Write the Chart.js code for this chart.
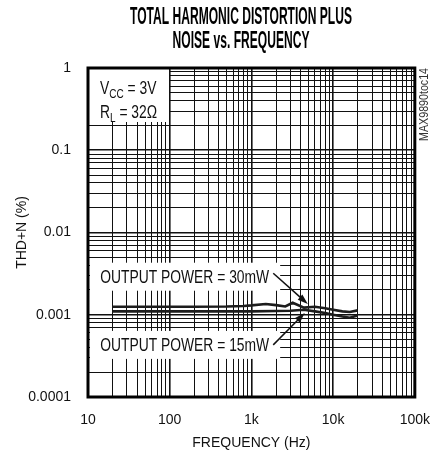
<!DOCTYPE html>
<html>
<head>
<meta charset="utf-8">
<script src="https://cdn.jsdelivr.net/npm/chart.js@4/dist/chart.umd.min.js"></script>
<style>
  html, body { margin: 0; padding: 0; background: #fff; }
  canvas { display: block; }
</style>
</head>
<body>
<canvas id="thdChart" width="445" height="460"></canvas>
<script>
const FONT = "'Liberation Sans', Arial, sans-serif";
const NARROW = 0.77; // horizontal squeeze for the narrow face used on the sheet

// data (Hz, %)
const freq30 = [20, 50, 100, 200, 500, 800, 1000, 1500, 2000, 2600, 3200, 4400, 6000, 8000, 10000, 13000, 16000, 20000];
const thd30 = [0.00125, 0.00125, 0.00125, 0.00125, 0.00126, 0.00128, 0.0013, 0.00135, 0.00131, 0.00126, 0.0014, 0.00122, 0.00125, 0.0012, 0.00115, 0.0011, 0.00108, 0.00113];
const freq15 = [20, 50, 100, 200, 500, 1000, 2000, 3000, 4400, 6000, 8000, 10000, 13000, 16000, 20000];
const thd15 = [0.0011, 0.0011, 0.0011, 0.0011, 0.0011, 0.0011, 0.00111, 0.00112, 0.00115, 0.0011, 0.00105, 0.001, 0.00095, 0.00092, 0.00098];

const xDecades = [10, 100, 1000, 10000, 100000];
const xTickLabels = ["10", "100", "1k", "10k", "100k"];
const yDecades = [0.0001, 0.001, 0.01, 0.1, 1];
const yTickLabels = ["0.0001", "0.001", "0.01", "0.1", "1"];

// annotation anchors in data units
const label30 = { text: "OUTPUT POWER = 30mW", x: 1650, y: 0.0029, tailX: 1850, tailY: 0.0032, tipX: 4900, tipY: 0.00135 };
const label15 = { text: "OUTPUT POWER = 15mW", x: 1650, y: 0.00043, tailX: 1850, tailY: 0.00043, tipX: 4500, tipY: 0.00105 };

function logTicks(decades) {
  const out = [];
  for (let i = 0; i < decades.length - 1; i++) {
    for (let m = 1; m < 10; m++) out.push({ value: Number((m * decades[i]).toPrecision(6)) });
  }
  out.push({ value: decades[decades.length - 1] });
  return out;
}

function labelFor(value, decades, labels) {
  const i = decades.findIndex(d => Math.abs(d - value) / d < 1e-6);
  return i >= 0 ? labels[i] : "";
}

function isDecade(value, decades) {
  return decades.some(d => Math.abs(d - value) / d < 1e-6);
}

// draw text squeezed horizontally, returns drawn width
function narrowText(ctx, text, x, y, font, align, sx) {
  ctx.save();
  ctx.font = font;
  ctx.textAlign = align;
  ctx.translate(x, y);
  ctx.scale(sx, 1);
  ctx.fillText(text, 0, 0);
  const w = ctx.measureText(text).width * sx;
  ctx.restore();
  return w;
}

function drawArrow(ctx, x1, y1, x2, y2) {
  const ang = Math.atan2(y2 - y1, x2 - x1);
  const head = 11;
  ctx.beginPath();
  ctx.moveTo(x1, y1);
  ctx.lineTo(x2 - Math.cos(ang) * head * 0.8, y2 - Math.sin(ang) * head * 0.8);
  ctx.stroke();
  ctx.beginPath();
  ctx.moveTo(x2, y2);
  ctx.lineTo(x2 - head * Math.cos(ang - 0.32), y2 - head * Math.sin(ang - 0.32));
  ctx.lineTo(x2 - head * Math.cos(ang + 0.32), y2 - head * Math.sin(ang + 0.32));
  ctx.closePath();
  ctx.fill();
}

const extras = {
  id: "extras",
  afterDatasetsDraw(chart) {
    const { ctx, chartArea: a, scales: { x, y } } = chart;
    ctx.save();
    ctx.strokeStyle = "#111";

    // conditions box
    ctx.fillStyle = "#fff";
    ctx.fillRect(a.left + 1, a.top + 1, 80, 53);
    ctx.fillStyle = "#111";
    ctx.textBaseline = "alphabetic";
    const rows = [["V", "CC", " = 3V"], ["R", "L", " = 32\u03A9"]];
    rows.forEach((r, i) => {
      let cx = a.left + 12;
      const by = a.top + 26 + i * 24;
      cx += narrowText(ctx, r[0], cx, by, "18px " + FONT, "left", NARROW);
      cx += narrowText(ctx, r[1], cx, by + 4, "13px " + FONT, "left", NARROW);
      narrowText(ctx, r[2], cx, by, "18px " + FONT, "left", NARROW);
    });

    // output power labels + arrows
    [label30, label15].forEach(l => {
      const px = x.getPixelForValue(l.x);
      const py = y.getPixelForValue(l.y);
      ctx.fillStyle = "#fff";
      ctx.fillRect(a.left + 2, py - 14, px - a.left + 9, 28);
      ctx.fillStyle = "#111";
      ctx.textBaseline = "middle";
      narrowText(ctx, l.text, px, py + 1, "18px " + FONT, "right", NARROW);
      ctx.lineWidth = 1.5;
      drawArrow(ctx, x.getPixelForValue(l.tailX), y.getPixelForValue(l.tailY),
        x.getPixelForValue(l.tipX), y.getPixelForValue(l.tipY));
    });

    // frame
    ctx.lineWidth = 3;
    ctx.strokeStyle = "#000";
    ctx.strokeRect(a.left, a.top, a.right - a.left, a.bottom - a.top);

    // side code
    ctx.save();
    ctx.translate(a.right + 10, a.top);
    ctx.rotate(-Math.PI / 2);
    ctx.fillStyle = "#333";
    ctx.textBaseline = "middle";
    narrowText(ctx, "MAX9890toc14", 0, 0, "13px " + FONT, "right", 0.82);
    ctx.restore();

    // title
    const titleLines = ["TOTAL HARMONIC DISTORTION PLUS", "NOISE vs. FREQUENCY"];
    const titleFont = "bold 23px " + FONT;
    ctx.font = titleFont;
    ctx.fillStyle = "#000";
    ctx.textBaseline = "middle";
    const sx = Math.min(1, 222 / ctx.measureText(titleLines[0]).width);
    titleLines.forEach((t, i) => {
      narrowText(ctx, t, 241, 18 + i * 24, titleFont, "center", sx);
    });
    ctx.restore();
  }
};

const seriesStyle = {
  borderColor: "#1c1c1c",
  borderWidth: 2.6,
  pointRadius: 0,
  tension: 0,
  fill: false
};

new Chart(document.getElementById("thdChart"), {
  type: "line",
  data: {
    datasets: [
      { label: "30mW", data: freq30.map((f, i) => ({ x: f, y: thd30[i] })), ...seriesStyle },
      { label: "15mW", data: freq15.map((f, i) => ({ x: f, y: thd15[i] })), ...seriesStyle }
    ]
  },
  options: {
    responsive: false,
    animation: false,
    layout: { padding: { top: 68, right: 27, left: 0, bottom: 0 } },
    plugins: { legend: { display: false }, tooltip: { enabled: false } },
    scales: {
      x: {
        type: "logarithmic",
        min: 10,
        max: 100000,
        afterBuildTicks: s => { s.ticks = logTicks(xDecades); },
        afterFit: s => { s.height = 63; },
        ticks: {
          autoSkip: false,
          maxRotation: 0,
          padding: 15,
          color: "#111",
          font: { family: FONT, size: 14 },
          callback: v => labelFor(v, xDecades, xTickLabels)
        },
        grid: {
          drawTicks: false,
          color: "#111",
          lineWidth: c => (c.tick && isDecade(c.tick.value, xDecades) ? 1.6 : 1)
        },
        border: { display: false },
        title: {
          display: true,
          text: "FREQUENCY (Hz)",
          color: "#111",
          font: { family: FONT, size: 14 },
          padding: { top: 0, bottom: 8 }
        }
      },
      y: {
        type: "logarithmic",
        min: 0.0001,
        max: 1,
        afterBuildTicks: s => { s.ticks = logTicks(yDecades); },
        afterFit: s => { s.width = 88; },
        ticks: {
          autoSkip: false,
          padding: 17,
          color: "#111",
          font: { family: FONT, size: 14 },
          callback: v => labelFor(v, yDecades, yTickLabels)
        },
        grid: {
          drawTicks: false,
          color: "#111",
          lineWidth: c => (c.tick && isDecade(c.tick.value, yDecades) ? 1.6 : 1)
        },
        border: { display: false },
        title: {
          display: true,
          text: "THD+N (%)",
          color: "#111",
          font: { family: FONT, size: 14 },
          padding: { top: 14, bottom: 0 }
        }
      }
    }
  },
  plugins: [extras]
});
</script>
</body>
</html>
